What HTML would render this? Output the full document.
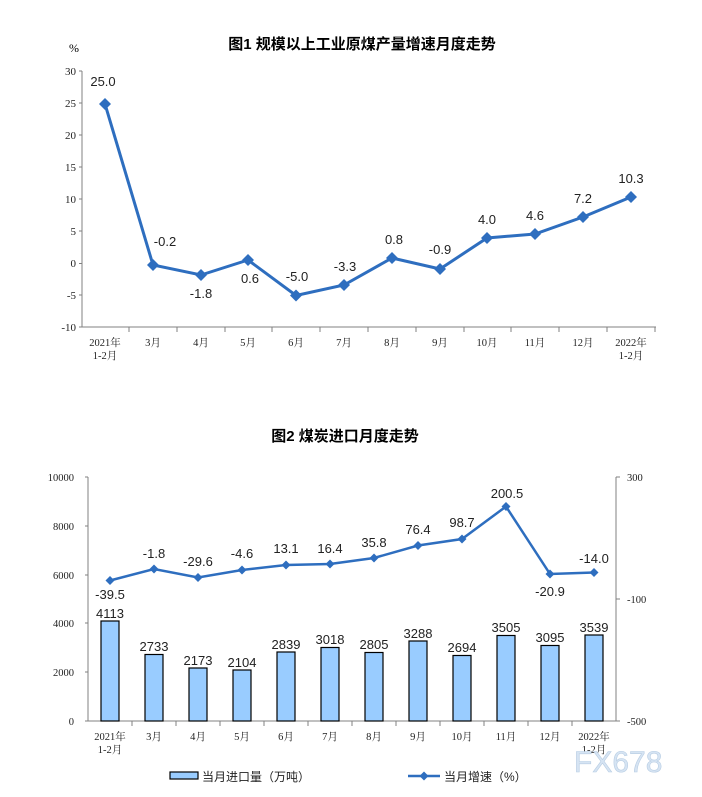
<!DOCTYPE html>
<html><head><meta charset="utf-8"><style>
body{margin:0;background:#fff;width:702px;height:797px;overflow:hidden}
svg{display:block}
.t{font-family:"Liberation Sans","Noto Sans CJK SC",sans-serif}
.s{font-family:"Liberation Serif","Noto Serif CJK SC",serif}
</style></head><body>
<svg width="702" height="797" xmlns="http://www.w3.org/2000/svg">
<text x="362" y="49" text-anchor="middle" font-size="15" font-weight="bold" class="t" fill="#000">图1  规模以上工业原煤产量增速月度走势</text>
<text x="74" y="52" text-anchor="middle" font-size="12" class="s">%</text>
<g stroke="#808080" stroke-width="1" fill="none">
<path d="M82 71V327H656"/>
<path d="M79 71H82M79 103H82M79 135H82M79 167H82M79 199H82M79 231H82M79 263.5H82M79 295H82M79 327H82"/>
<path d="M129 327v5M177 327v5M225 327v5M272 327v5M320 327v5M368 327v5M416 327v5M464 327v5M511 327v5M559 327v5M607 327v5M655 327v5"/>
</g>
<g font-size="11" class="s" text-anchor="end" fill="#222">
<text x="76" y="75">30</text><text x="76" y="107">25</text><text x="76" y="139">20</text><text x="76" y="171">15</text><text x="76" y="203">10</text><text x="76" y="235">5</text><text x="76" y="267">0</text><text x="76" y="299">-5</text><text x="76" y="331">-10</text>
</g>
<g font-size="10.5" class="s" text-anchor="middle" fill="#222">
<text x="105" y="346">2021年</text><text x="105" y="359">1-2月</text>
<text x="153" y="346">3月</text><text x="201" y="346">4月</text><text x="248" y="346">5月</text><text x="296" y="346">6月</text><text x="344" y="346">7月</text><text x="392" y="346">8月</text><text x="440" y="346">9月</text><text x="487" y="346">10月</text><text x="535" y="346">11月</text><text x="583" y="346">12月</text>
<text x="631" y="346">2022年</text><text x="631" y="359">1-2月</text>
</g>
<polyline fill="none" stroke="#2E6EBF" stroke-width="3" points="105,104 153,265 201,275 248,260 296,295.5 344,285 392,258 440,269 487,238 535,234 583,217 631,197"/>
<g fill="#2E6EBF">
<path d="M105 98l6 6-6 6-6-6z"/><path d="M153 259l6 6-6 6-6-6z"/><path d="M201 269l6 6-6 6-6-6z"/><path d="M248 254l6 6-6 6-6-6z"/><path d="M296 289.5l6 6-6 6-6-6z"/><path d="M344 279l6 6-6 6-6-6z"/><path d="M392 252l6 6-6 6-6-6z"/><path d="M440 263l6 6-6 6-6-6z"/><path d="M487 232l6 6-6 6-6-6z"/><path d="M535 228l6 6-6 6-6-6z"/><path d="M583 211l6 6-6 6-6-6z"/><path d="M631 191l6 6-6 6-6-6z"/>
</g>
<g font-size="13" class="t" text-anchor="middle" fill="#222">
<text x="103" y="86">25.0</text><text x="165" y="246">-0.2</text><text x="201" y="298">-1.8</text><text x="250" y="283">0.6</text><text x="297" y="281">-5.0</text><text x="345" y="271">-3.3</text><text x="394" y="244">0.8</text><text x="440" y="254">-0.9</text><text x="487" y="224">4.0</text><text x="535" y="220">4.6</text><text x="583" y="203">7.2</text><text x="631" y="183">10.3</text>
</g>

<text x="345" y="441" text-anchor="middle" font-size="15" font-weight="bold" class="t" fill="#000">图2  煤炭进口月度走势</text>
<g stroke="#808080" stroke-width="1" fill="none">
<path d="M88 477V721H616V477"/>
<path d="M85 477H88M85 526H88M85 575H88M85 623H88M85 672H88M85 721H88M616 477h4M616 599h4M616 721h4"/>
<path d="M132 721v5M176 721v5M220 721v5M264 721v5M308 721v5M352 721v5M396 721v5M440 721v5M484 721v5M528 721v5M572 721v5"/>
</g>
<g font-size="10.5" class="s" text-anchor="end" fill="#222">
<text x="74" y="481">10000</text><text x="74" y="530">8000</text><text x="74" y="579">6000</text><text x="74" y="627">4000</text><text x="74" y="676">2000</text><text x="74" y="725">0</text>
</g>
<g font-size="10.5" class="s" fill="#222">
<text x="627" y="481">300</text><text x="627" y="603">-100</text><text x="627" y="725">-500</text>
</g>
<g fill="#99CCFF" stroke="#000" stroke-width="1.2">
<rect x="101" y="621" width="18" height="100"/><rect x="145" y="654.5" width="18" height="66.5"/><rect x="189" y="668" width="18" height="53"/><rect x="233" y="670" width="18" height="51"/><rect x="277" y="652" width="18" height="69"/><rect x="321" y="647.5" width="18" height="73.5"/><rect x="365" y="652.5" width="18" height="68.5"/><rect x="409" y="641" width="18" height="80"/><rect x="453" y="655.5" width="18" height="65.5"/><rect x="497" y="635.5" width="18" height="85.5"/><rect x="541" y="645.5" width="18" height="75.5"/><rect x="585" y="635" width="18" height="86"/>
</g>
<g font-size="13" class="t" text-anchor="middle" fill="#222">
<text x="110" y="618">4113</text><text x="154" y="651">2733</text><text x="198" y="665">2173</text><text x="242" y="667">2104</text><text x="286" y="649">2839</text><text x="330" y="644">3018</text><text x="374" y="649">2805</text><text x="418" y="638">3288</text><text x="462" y="652">2694</text><text x="506" y="632">3505</text><text x="550" y="642">3095</text><text x="594" y="632">3539</text>
</g>
<polyline fill="none" stroke="#2E6EBF" stroke-width="2.5" points="110,580.5 154,569 198,577.5 242,570 286,565 330,564 374,558 418,545.5 462,539 506,506.5 550,574 594,572.5"/>
<g fill="#2E6EBF">
<path d="M110 576l4.5 4.5-4.5 4.5-4.5-4.5z"/><path d="M154 564.5l4.5 4.5-4.5 4.5-4.5-4.5z"/><path d="M198 573l4.5 4.5-4.5 4.5-4.5-4.5z"/><path d="M242 565.5l4.5 4.5-4.5 4.5-4.5-4.5z"/><path d="M286 560.5l4.5 4.5-4.5 4.5-4.5-4.5z"/><path d="M330 559.5l4.5 4.5-4.5 4.5-4.5-4.5z"/><path d="M374 553.5l4.5 4.5-4.5 4.5-4.5-4.5z"/><path d="M418 541l4.5 4.5-4.5 4.5-4.5-4.5z"/><path d="M462 534.5l4.5 4.5-4.5 4.5-4.5-4.5z"/><path d="M506 502l4.5 4.5-4.5 4.5-4.5-4.5z"/><path d="M550 569.5l4.5 4.5-4.5 4.5-4.5-4.5z"/><path d="M594 568l4.5 4.5-4.5 4.5-4.5-4.5z"/>
</g>
<g font-size="13" class="t" text-anchor="middle" fill="#222">
<text x="110" y="599">-39.5</text><text x="154" y="558">-1.8</text><text x="198" y="566">-29.6</text><text x="242" y="558">-4.6</text><text x="286" y="553">13.1</text><text x="330" y="553">16.4</text><text x="374" y="547">35.8</text><text x="418" y="534">76.4</text><text x="462" y="527">98.7</text><text x="507" y="498">200.5</text><text x="550" y="596">-20.9</text><text x="594" y="563">-14.0</text>
</g>
<g font-size="10.5" class="s" text-anchor="middle" fill="#222">
<text x="110" y="740">2021年</text><text x="110" y="753">1-2月</text>
<text x="154" y="740">3月</text><text x="198" y="740">4月</text><text x="242" y="740">5月</text><text x="286" y="740">6月</text><text x="330" y="740">7月</text><text x="374" y="740">8月</text><text x="418" y="740">9月</text><text x="462" y="740">10月</text><text x="506" y="740">11月</text><text x="550" y="740">12月</text>
<text x="594" y="740">2022年</text><text x="594" y="753">1-2月</text>
</g>
<rect x="170" y="772" width="28" height="7" fill="#99CCFF" stroke="#000" stroke-width="1.2"/>
<text x="202" y="781" font-size="12" class="t" fill="#222">当月进口量（万吨）</text>
<line x1="408" y1="776" x2="440" y2="776" stroke="#2E6EBF" stroke-width="2.5"/>
<path d="M424 771.5l4.5 4.5-4.5 4.5-4.5-4.5z" fill="#2E6EBF"/>
<text x="444" y="781" font-size="12" class="t" fill="#222">当月增速（%）</text>
<text x="574" y="772" font-size="30" class="t" fill="#d6e4f3" stroke="#b8cde3" stroke-width="0.6">FX678</text>
</svg>
</body></html>
